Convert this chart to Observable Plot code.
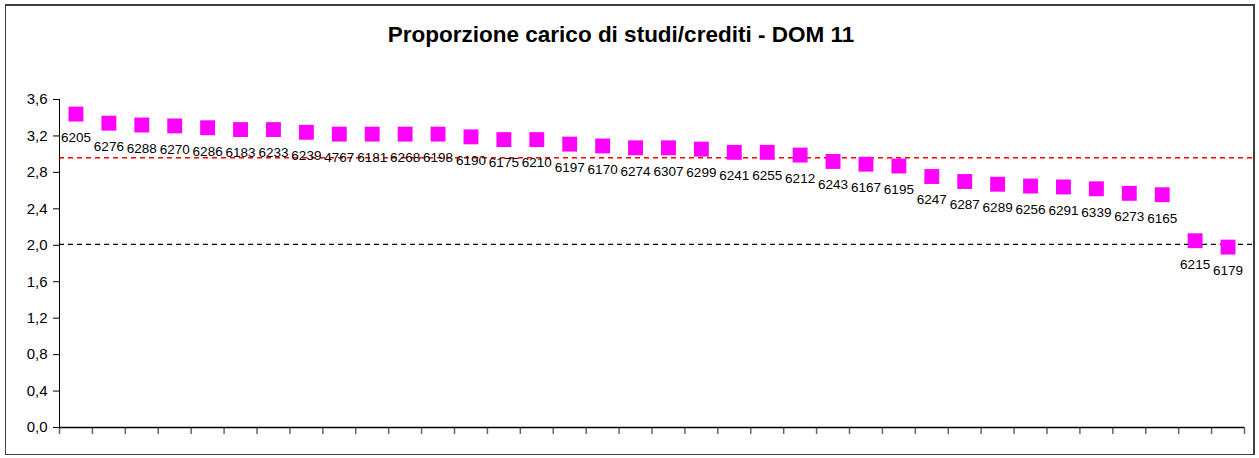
<!DOCTYPE html>
<html>
<head>
<meta charset="utf-8">
<script src="https://cdn.jsdelivr.net/npm/d3@7"></script>
<script src="https://cdn.jsdelivr.net/npm/@observablehq/plot@0.6"></script>
<style>
  html, body { margin: 0; padding: 0; background: #fff; }
  #wrap { position: relative; width: 1259px; height: 458px; overflow: hidden; font-family: Arial, "Liberation Sans", sans-serif; }
  #frame { position: absolute; left: 5px; top: 4px; width: 1250px; height: 451px; border: 2px solid #404040; border-left-width: 1px; border-bottom-width: 1px; box-sizing: border-box; pointer-events: none; }
  #title { position: absolute; left: 0; top: 24px; width: 1242px; text-align: center; font-weight: bold; font-size: 22.5px; line-height: 22px; color: #000; }
  #chart { position: absolute; left: 0; top: 0; }
</style>
</head>
<body>
<div id="wrap">
  <div id="chart"></div>
  <div id="frame"></div>
  <div id="title">Proporzione carico di studi/crediti - DOM 11</div>
</div>
<script>
const codes = ["6205","6276","6288","6270","6286","6183","6233","6239","4767","6181","6268","6198",
  "6190","6175","6210","6197","6170","6274","6307","6299","6241","6255","6212","6243",
  "6167","6195","6247","6287","6289","6256","6291","6339","6273","6165","6215","6179"];
const values = [3.44,3.34,3.32,3.31,3.29,3.27,3.27,3.24,3.22,3.22,3.22,3.22,
  3.19,3.16,3.16,3.11,3.09,3.07,3.07,3.055,3.02,3.02,2.99,2.92,
  2.89,2.87,2.755,2.70,2.67,2.65,2.64,2.62,2.57,2.555,2.05,1.98];
const redLine = 2.96;
const blackLine = 2.01;
const yTicks = [0,0.4,0.8,1.2,1.6,2.0,2.4,2.8,3.2,3.6];

const data = codes.map((c, i) => ({code: c, value: values[i], pos: i + 0.5}));
const n = codes.length;
const xTicks = d3.range(n + 1);
const fmt = d => d.toFixed(1).replace(".", ",");

const chart = Plot.plot({
  width: 1259,
  height: 458,
  marginLeft: 59,
  marginRight: 15,
  marginTop: 99,
  marginBottom: 31,
  style: {fontFamily: 'Arial, "Liberation Sans", sans-serif', background: "transparent", overflow: "visible"},
  x: {type: "linear", domain: [0, n], axis: null},
  y: {domain: [0, 3.6], axis: null},
  marks: [
    Plot.axisY(yTicks, {tickSize: 6, tickPadding: 6, tickFormat: fmt, fontSize: 15, fill: "#000", stroke: "#000", label: null}),
    Plot.axisX(xTicks, {tickSize: 7, tickFormat: () => "", stroke: "#666", strokeWidth: 1.5, label: null}),
    Plot.ruleY([redLine], {x1: 0, x2: n + 0.35, stroke: "#ff0000", strokeWidth: 1.5, strokeDasharray: "5,4", clip: false}),
    Plot.ruleY([blackLine], {x1: 0, x2: n + 0.35, stroke: "#000", strokeWidth: 1.3, strokeDasharray: "5,4", clip: false}),
    Plot.ruleX([0], {y1: 0, y2: 3.6, stroke: "#000", strokeWidth: 1}),
    Plot.ruleY([0], {x1: 0, x2: n, stroke: "#000", strokeWidth: 1.3}),
    Plot.dot(data, {x: "pos", y: "value", symbol: "square", r: 8.4, fill: "#ff00ff", stroke: "none"}),
    Plot.text(data, {x: "pos", y: "value", text: "code", dy: 23.5, fontSize: 13.5, fill: "#000"})
  ]
});
document.getElementById("chart").appendChild(chart);
</script>
</body>
</html>
